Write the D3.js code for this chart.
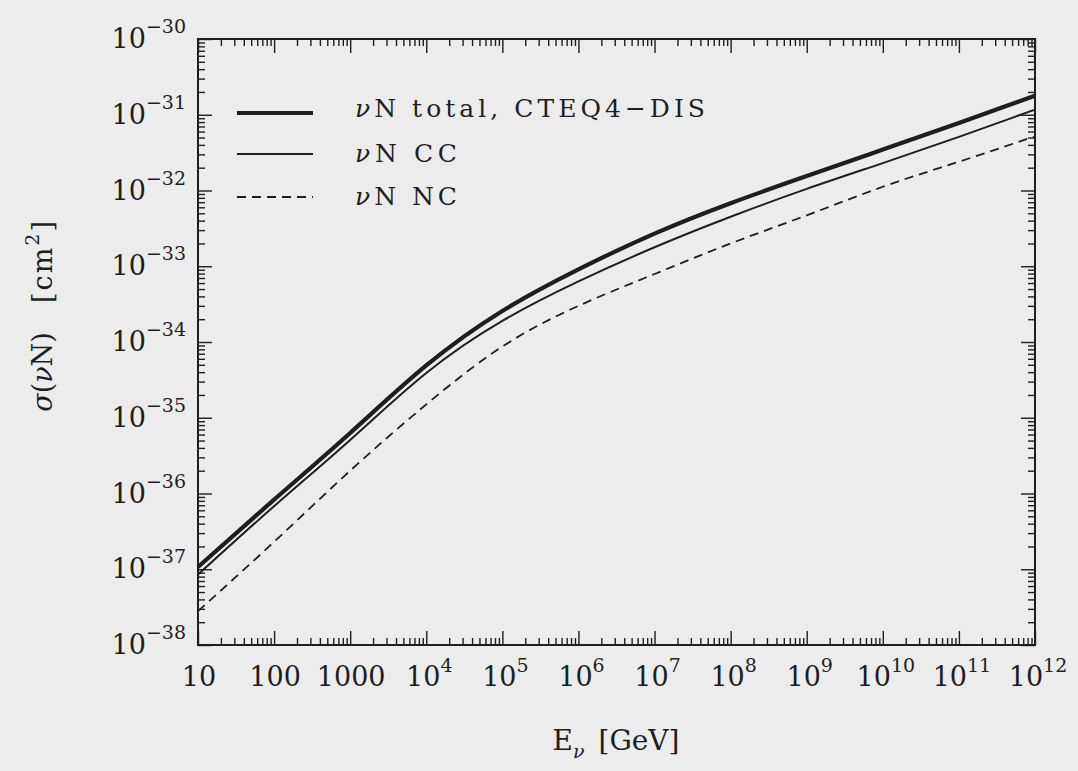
<!DOCTYPE html>
<html>
<head>
<meta charset="utf-8">
<script src="https://cdn.jsdelivr.net/npm/d3@7"></script>
<style>
  html, body { margin: 0; padding: 0; background: #ececec; }
  svg { display: block; }
  text { font-family: "DejaVu Serif", "Liberation Serif", serif; fill: #1e1e1e; }
</style>
</head>
<body>
<div id="chart"></div>
<script>
// neutrino energies (GeV) and cross sections (cm^2)
const energies = [1e1, 1e2, 1e3, 1e4, 1e5, 1e6, 1e7, 1e8, 1e9, 1e10, 1e11, 1e12];
const sigmaTotal = [1.07e-37, 8.3e-37, 6.3e-36, 4.9e-35, 2.57e-34, 9.1e-34, 2.7e-33, 6.8e-33, 1.55e-32, 3.47e-32, 7.8e-32, 1.78e-31];
const sigmaCC = [8.5e-38, 6.8e-37, 5.1e-36, 3.9e-35, 1.9e-34, 6.3e-34, 1.78e-33, 4.5e-33, 1.05e-32, 2.3e-32, 5.1e-32, 1.17e-31];
const sigmaNC = [2.8e-38, 2.3e-37, 2.0e-36, 1.5e-35, 8.7e-35, 3.0e-34, 7.9e-34, 2.0e-33, 4.7e-33, 1.12e-32, 2.4e-32, 5.2e-32];

const xTickLabels = [["10", ""], ["100", ""], ["1000", ""], ["10", "4"], ["10", "5"], ["10", "6"], ["10", "7"],
                     ["10", "8"], ["10", "9"], ["10", "10"], ["10", "11"], ["10", "12"]];
const yDecades = [-38, -37, -36, -35, -34, -33, -32, -31, -30];

const legendItems = [
  { label: " total, CTEQ4\u2212DIS", width: 4.2, dash: null, data: sigmaTotal, textLength: 350 },
  { label: " CC", width: 2, dash: null, data: sigmaCC, textLength: 102 },
  { label: " NC", width: 1.8, dash: "9,6", data: sigmaNC, textLength: 102 }
];

const W = 1078, H = 771;
const plot = { left: 198, right: 1035, top: 39, bottom: 645 };
const ink = "#1e1e1e";

const svg = d3.select("#chart").append("svg")
  .attr("width", W)
  .attr("height", H);

svg.append("rect").attr("width", W).attr("height", H).attr("fill", "#ececec");

const x = d3.scaleLog().domain([10, 1e12]).range([plot.left, plot.right]);
const y = d3.scaleLog().domain([1e-38, 1e-30]).range([plot.bottom, plot.top]);

function isMajor(v) {
  let l = Math.log10(v);
  return Math.abs(l - Math.round(l)) < 1e-6;
}

const xTicks = x.ticks(100);
const yTicks = y.ticks(100);

// ticks on all four sides, pointing inwards
function drawAxis(axis, tx, ty, attr, sign) {
  let g = svg.append("g")
    .attr("transform", "translate(" + tx + "," + ty + ")")
    .call(axis.tickFormat("").tickSizeOuter(0));
  g.select(".domain").remove();
  g.selectAll(".tick line")
    .attr("stroke", ink)
    .attr("stroke-width", 1.4)
    .attr(attr, function(d) { return sign * (isMajor(d) ? 14 : 7); });
}

drawAxis(d3.axisTop(x).tickValues(xTicks), 0, plot.bottom, "y2", -1);
drawAxis(d3.axisBottom(x).tickValues(xTicks), 0, plot.top, "y2", 1);
drawAxis(d3.axisRight(y).tickValues(yTicks), plot.left, 0, "x2", 1);
drawAxis(d3.axisLeft(y).tickValues(yTicks), plot.right, 0, "x2", -1);

svg.append("rect")
  .attr("x", plot.left)
  .attr("y", plot.top)
  .attr("width", plot.right - plot.left)
  .attr("height", plot.bottom - plot.top)
  .attr("fill", "none")
  .attr("stroke", ink)
  .attr("stroke-width", 2);

// x tick labels
const xl = svg.append("g").selectAll("text")
  .data(energies)
  .enter().append("text")
  .attr("x", function(d, i) { return x(d) + (xTickLabels[i][1] ? 3 : 1); })
  .attr("y", 686)
  .attr("text-anchor", "middle")
  .style("font-size", "27px");
xl.append("tspan").text(function(d, i) { return xTickLabels[i][0]; });
xl.append("tspan")
  .attr("dy", -14)
  .style("font-size", "19px")
  .text(function(d, i) { return xTickLabels[i][1]; });

// y tick labels
const yl = svg.append("g").selectAll("text")
  .data(yDecades)
  .enter().append("text")
  .attr("x", 186)
  .attr("y", function(d) { return y(Math.pow(10, d)) + 9; })
  .attr("text-anchor", "end")
  .style("font-size", "27px");
yl.append("tspan").text("10");
yl.append("tspan")
  .attr("dy", -15)
  .style("font-size", "19px")
  .text(function(d) { return "\u2212" + Math.abs(d); });

// curves
const line = d3.line()
  .x(function(d) { return x(d[0]); })
  .y(function(d) { return y(d[1]); })
  .curve(d3.curveNatural);

svg.append("g").selectAll("path")
  .data(legendItems)
  .enter().append("path")
  .attr("d", function(d) { return line(d3.zip(energies, d.data)); })
  .attr("fill", "none")
  .attr("stroke", ink)
  .attr("stroke-width", function(d) { return d.width; })
  .attr("stroke-dasharray", function(d) { return d.dash; });

// legend
const legendY = [113, 154, 197];
const lg = svg.append("g").selectAll("g")
  .data(legendItems)
  .enter().append("g")
  .attr("transform", function(d, i) { return "translate(0," + legendY[i] + ")"; });

lg.append("line")
  .attr("x1", 237).attr("x2", 313)
  .attr("stroke", ink)
  .attr("stroke-width", function(d) { return d.width; })
  .attr("stroke-dasharray", function(d) { return d.dash; });

const lt = lg.append("text")
  .attr("x", 355)
  .attr("y", function(d, i) { return i == 0 ? 4 : 8; })
  .attr("textLength", function(d) { return d.textLength; })
  .attr("lengthAdjust", "spacing")
  .style("font-size", "25px");
lt.append("tspan").style("font-style", "italic").text("\u03bd");
lt.append("tspan").text(function(d) { return "N" + d.label; });

// axis titles
const xt = svg.append("text")
  .attr("x", 616)
  .attr("y", 750)
  .attr("text-anchor", "middle")
  .style("font-size", "28px");
xt.append("tspan").text("E");
xt.append("tspan").attr("dy", 8).style("font-size", "19px").style("font-style", "italic").text("\u03bd");
xt.append("tspan").attr("dy", -8).text("\u2002[GeV]");

const yt1 = svg.append("text")
  .attr("transform", "translate(52,372) rotate(-90)")
  .attr("text-anchor", "middle")
  .style("font-size", "27px");
yt1.append("tspan").style("font-style", "italic").text("\u03c3");
yt1.append("tspan").text("(");
yt1.append("tspan").style("font-style", "italic").text("\u03bd");
yt1.append("tspan").text("N)");

const yt2 = svg.append("text")
  .attr("transform", "translate(52,261) rotate(-90)")
  .attr("text-anchor", "middle")
  .attr("letter-spacing", 2)
  .style("font-size", "27px");
yt2.append("tspan").text("[cm");
yt2.append("tspan").attr("dy", -13).style("font-size", "19px").text("2");
yt2.append("tspan").attr("dy", 13).text("]");
</script>
</body>
</html>
